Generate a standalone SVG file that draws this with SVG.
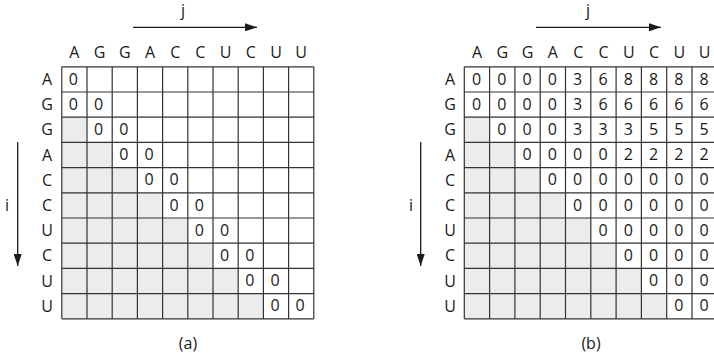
<svg xmlns="http://www.w3.org/2000/svg" width="714" height="359" viewBox="0 0 714 359">
<style>
text{font-family:"Open Sans","Noto Sans","Liberation Sans",sans-serif;font-size:16px;fill:#1a1a1a;text-anchor:middle}
.g{fill:#ececec}
.grid{fill:none;stroke:#333;stroke-width:1.2}
.ax{stroke:#1a1a1a;stroke-width:1.3;fill:none}
</style>
<defs>
<marker id="ah" viewBox="0 0 12 8" refX="12" refY="4" markerWidth="12" markerHeight="8" markerUnits="userSpaceOnUse" orient="auto">
<path d="M0,0 L12,4 L0,8 Z" fill="#1a1a1a"/>
</marker>
</defs>
<rect width="714" height="359" fill="#fff"/>

<g id="connectors">
<line class="ax" x1="133" y1="27.3" x2="257" y2="27.3" marker-end="url(#ah)"/>
<line class="ax" x1="17.7" y1="142" x2="17.7" y2="266" marker-end="url(#ah)"/>
<line class="ax" x1="536" y1="27.3" x2="661" y2="27.3" marker-end="url(#ah)"/>
<line class="ax" x1="420.7" y1="142" x2="420.7" y2="266" marker-end="url(#ah)"/>
</g>

<g id="labels">
<text x="183" y="16">j</text>
<text x="7" y="211">i</text>
<text x="588" y="16">j</text>
<text x="411" y="211">i</text>
<text x="188" y="349">(a)</text>
<text x="591" y="349">(b)</text>
</g>

<g id="matrix-a">
<rect class="g" x="61.8" y="117.2" width="25.2" height="25.2"/>
<rect class="g" x="61.8" y="142.4" width="50.4" height="25.2"/>
<rect class="g" x="61.8" y="167.6" width="75.6" height="25.2"/>
<rect class="g" x="61.8" y="192.8" width="100.8" height="25.2"/>
<rect class="g" x="61.8" y="218" width="126" height="25.2"/>
<rect class="g" x="61.8" y="243.2" width="151.2" height="25.2"/>
<rect class="g" x="61.8" y="268.4" width="176.4" height="25.2"/>
<rect class="g" x="61.8" y="293.6" width="201.6" height="25.2"/>
<path class="grid" d="M61.8,66.8V318.8M87,66.8V318.8M112.2,66.8V318.8M137.4,66.8V318.8M162.6,66.8V318.8M187.8,66.8V318.8M213,66.8V318.8M238.2,66.8V318.8M263.4,66.8V318.8M288.6,66.8V318.8M313.8,66.8V318.8M61.8,66.8H313.8M61.8,92H313.8M61.8,117.2H313.8M61.8,142.4H313.8M61.8,167.6H313.8M61.8,192.8H313.8M61.8,218H313.8M61.8,243.2H313.8M61.8,268.4H313.8M61.8,293.6H313.8M61.8,318.8H313.8"/>
<text x="74.4" y="58">A</text><text x="99.6" y="58">G</text><text x="124.8" y="58">G</text><text x="150" y="58">A</text><text x="175.2" y="58">C</text><text x="200.4" y="58">C</text><text x="225.6" y="58">U</text><text x="250.8" y="58">C</text><text x="276" y="58">U</text><text x="301.2" y="58">U</text>
<text x="47" y="85">A</text><text x="47" y="110.2">G</text><text x="47" y="135.4">G</text><text x="47" y="160.6">A</text><text x="47" y="185.8">C</text><text x="47" y="211">C</text><text x="47" y="236.2">U</text><text x="47" y="261.4">C</text><text x="47" y="286.6">U</text><text x="47" y="311.8">U</text>
<text x="73.4" y="84.5">0</text>
<text x="73.4" y="109.7">0</text><text x="98.6" y="109.7">0</text>
<text x="98.6" y="134.9">0</text><text x="123.8" y="134.9">0</text>
<text x="123.8" y="160.1">0</text><text x="149" y="160.1">0</text>
<text x="149" y="185.3">0</text><text x="174.2" y="185.3">0</text>
<text x="174.2" y="210.5">0</text><text x="199.4" y="210.5">0</text>
<text x="199.4" y="235.7">0</text><text x="224.6" y="235.7">0</text>
<text x="224.6" y="260.9">0</text><text x="249.8" y="260.9">0</text>
<text x="249.8" y="286.1">0</text><text x="275" y="286.1">0</text>
<text x="275" y="311.3">0</text><text x="300.2" y="311.3">0</text>
</g>

<g id="matrix-b">
<rect class="g" x="464.3" y="117.2" width="25.3" height="25.2"/>
<rect class="g" x="464.3" y="142.4" width="50.6" height="25.2"/>
<rect class="g" x="464.3" y="167.6" width="75.9" height="25.2"/>
<rect class="g" x="464.3" y="192.8" width="101.2" height="25.2"/>
<rect class="g" x="464.3" y="218" width="126.5" height="25.2"/>
<rect class="g" x="464.3" y="243.2" width="151.8" height="25.2"/>
<rect class="g" x="464.3" y="268.4" width="177.1" height="25.2"/>
<rect class="g" x="464.3" y="293.6" width="202.4" height="25.2"/>
<path class="grid" d="M464.3,66.8V318.8M489.6,66.8V318.8M514.9,66.8V318.8M540.2,66.8V318.8M565.5,66.8V318.8M590.8,66.8V318.8M616.1,66.8V318.8M641.4,66.8V318.8M666.7,66.8V318.8M692,66.8V318.8M717.3,66.8V318.8M464.3,66.8H717.3M464.3,92H717.3M464.3,117.2H717.3M464.3,142.4H717.3M464.3,167.6H717.3M464.3,192.8H717.3M464.3,218H717.3M464.3,243.2H717.3M464.3,268.4H717.3M464.3,293.6H717.3M464.3,318.8H717.3"/>
<text x="477" y="58">A</text><text x="502.3" y="58">G</text><text x="527.6" y="58">G</text><text x="552.9" y="58">A</text><text x="578.2" y="58">C</text><text x="603.5" y="58">C</text><text x="628.8" y="58">U</text><text x="654.1" y="58">C</text><text x="679.4" y="58">U</text><text x="704.7" y="58">U</text>
<text x="450" y="85">A</text><text x="450" y="110.2">G</text><text x="450" y="135.4">G</text><text x="450" y="160.6">A</text><text x="450" y="185.8">C</text><text x="450" y="211">C</text><text x="450" y="236.2">U</text><text x="450" y="261.4">C</text><text x="450" y="286.6">U</text><text x="450" y="311.8">U</text>
<text x="476.5" y="84.5">0</text><text x="501.8" y="84.5">0</text><text x="527.1" y="84.5">0</text><text x="552.4" y="84.5">0</text><text x="577.7" y="84.5">3</text><text x="603" y="84.5">6</text><text x="628.3" y="84.5">8</text><text x="653.6" y="84.5">8</text><text x="678.9" y="84.5">8</text><text x="704.2" y="84.5">8</text>
<text x="476.5" y="109.7">0</text><text x="501.8" y="109.7">0</text><text x="527.1" y="109.7">0</text><text x="552.4" y="109.7">0</text><text x="577.7" y="109.7">3</text><text x="603" y="109.7">6</text><text x="628.3" y="109.7">6</text><text x="653.6" y="109.7">6</text><text x="678.9" y="109.7">6</text><text x="704.2" y="109.7">6</text>
<text x="501.8" y="134.9">0</text><text x="527.1" y="134.9">0</text><text x="552.4" y="134.9">0</text><text x="577.7" y="134.9">3</text><text x="603" y="134.9">3</text><text x="628.3" y="134.9">3</text><text x="653.6" y="134.9">5</text><text x="678.9" y="134.9">5</text><text x="704.2" y="134.9">5</text>
<text x="527.1" y="160.1">0</text><text x="552.4" y="160.1">0</text><text x="577.7" y="160.1">0</text><text x="603" y="160.1">0</text><text x="628.3" y="160.1">2</text><text x="653.6" y="160.1">2</text><text x="678.9" y="160.1">2</text><text x="704.2" y="160.1">2</text>
<text x="552.4" y="185.3">0</text><text x="577.7" y="185.3">0</text><text x="603" y="185.3">0</text><text x="628.3" y="185.3">0</text><text x="653.6" y="185.3">0</text><text x="678.9" y="185.3">0</text><text x="704.2" y="185.3">0</text>
<text x="577.7" y="210.5">0</text><text x="603" y="210.5">0</text><text x="628.3" y="210.5">0</text><text x="653.6" y="210.5">0</text><text x="678.9" y="210.5">0</text><text x="704.2" y="210.5">0</text>
<text x="603" y="235.7">0</text><text x="628.3" y="235.7">0</text><text x="653.6" y="235.7">0</text><text x="678.9" y="235.7">0</text><text x="704.2" y="235.7">0</text>
<text x="628.3" y="260.9">0</text><text x="653.6" y="260.9">0</text><text x="678.9" y="260.9">0</text><text x="704.2" y="260.9">0</text>
<text x="653.6" y="286.1">0</text><text x="678.9" y="286.1">0</text><text x="704.2" y="286.1">0</text>
<text x="678.9" y="311.3">0</text><text x="704.2" y="311.3">0</text>
</g>
</svg>
